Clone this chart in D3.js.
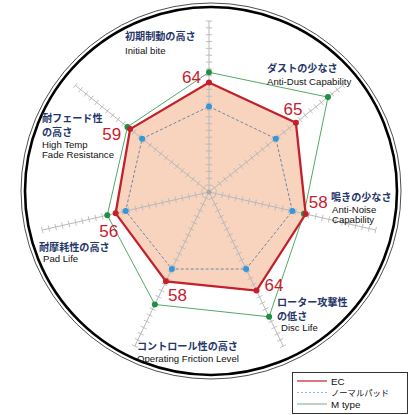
<!DOCTYPE html>
<html><head><meta charset="utf-8">
<script src="https://cdn.jsdelivr.net/npm/d3@7"></script>
<style>
html,body{margin:0;padding:0;background:#fff;}
svg{display:block;}
</style></head>
<body>
<svg id="chart" width="415" height="415"></svg>
<script>
// ---- data ----
const axesJa = ["初期制動の高さ","ダストの少なさ","鳴きの少なさ","ローター攻撃性の低さ","コントロール性の高さ","耐摩耗性の高さ","耐フェード性の高さ"];
const axesEn = ["Initial bite","Anti-Dust Capability","Anti-Noise Capability","Disc Life","Operating Friction Level","Pad Life","High Temp Fade Resistance"];
const seriesNames = ["EC","ノーマルパッド","M type"];
const ecValues = [64,65,58,64,58,56,59];
const normalValues = [50,50,50,50,50,50,50];
const mtypeValues = [70,89,57,81,73,61,61];
const tickValues = d3.range(4,101,4);

// ---- layout ----
const cx = 209, cy = 192, R = 171;
const svg = d3.select("#chart");
const r = d3.scaleLinear().domain([0,100]).range([0,R]);
const n = axesJa.length;
const ang = d3.scaleLinear().domain([0,n]).range([0,2*Math.PI]);
const pt = (i,v)=>{const a=ang(i);return [cx+r(v)*Math.sin(a), cy-r(v)*Math.cos(a)];};

const labelLayout = [
  {ja:[["初期制動の高さ",125,40]], en:[["Initial bite",125,54]]},
  {ja:[["ダストの少なさ",267,72]], en:[["Anti-Dust Capability",267,85]]},
  {ja:[["鳴きの少なさ",331,201]], en:[["Anti-Noise",332,213],["Capability",332,223]]},
  {ja:[["ローター攻撃性",277,306],["の低さ",277,320]], en:[["Disc Life",281,331]]},
  {ja:[["コントロール性の高さ",137,350]], en:[["Operating Friction Level",137,362]]},
  {ja:[["耐摩耗性の高さ",39,251]], en:[["Pad Life",43,262]]},
  {ja:[["耐フェード性",42,122],["の高さ",42,136]], en:[["High Temp",42,148],["Fade Resistance",42,158]]}
];
const valueLabelLayout = [
  {anchor:"end",dx:-8,dy:0},
  {anchor:"middle",dx:-3,dy:-8},
  {anchor:"start",dx:3,dy:-6},
  {anchor:"start",dx:8,dy:0},
  {anchor:"start",dx:2,dy:20},
  {anchor:"middle",dx:-7,dy:24},
  {anchor:"end",dx:-9,dy:11}
];

// outer decorative rings
svg.append("ellipse").attr("cx",211).attr("cy",191).attr("rx",190).attr("ry",188)
  .attr("fill","none").attr("stroke","#222").attr("stroke-width",0.8);
svg.append("ellipse").attr("cx",211).attr("cy",191).attr("rx",186).attr("ry",184)
  .attr("fill","none").attr("stroke","#000").attr("stroke-width",2.6);

const line = d3.line().curve(d3.curveLinearClosed);
const ecPts = ecValues.map((v,i)=>pt(i,v));
const nPts = normalValues.map((v,i)=>pt(i,v));
const mPts = mtypeValues.map((v,i)=>pt(i,v));

svg.append("path").attr("d",line(ecPts)).attr("fill","#f8d3be").attr("stroke","none");

const axG = svg.append("g");
for(let i=0;i<n;i++){
  const a = ang(i);
  const [x2,y2] = pt(i,100);
  axG.append("line").attr("x1",cx).attr("y1",cy).attr("x2",x2).attr("y2",y2)
    .attr("stroke","#b9b9b9").attr("stroke-width",1);
  const px = Math.cos(a), py = Math.sin(a);
  tickValues.forEach(t=>{
    const [tx,ty] = pt(i,t);
    const h = 3.2;
    axG.append("line").attr("x1",tx-px*h).attr("y1",ty-py*h).attr("x2",tx+px*h).attr("y2",ty+py*h)
      .attr("stroke","#b9b9b9").attr("stroke-width",0.9);
  });
}
svg.append("circle").attr("cx",cx).attr("cy",cy).attr("r",2.5).attr("fill","#aaa");

svg.append("path").attr("d",line(nPts)).attr("fill","none").attr("stroke","#6e88a8")
  .attr("stroke-width",1).attr("stroke-dasharray","3,2");
svg.append("path").attr("d",line(mPts)).attr("fill","none").attr("stroke","#3f9f52").attr("stroke-width",0.9);
svg.append("path").attr("d",line(ecPts)).attr("fill","none").attr("stroke","#c3202b").attr("stroke-width",2.3);

svg.selectAll(".dn").data(nPts).enter().append("circle").attr("cx",d=>d[0]).attr("cy",d=>d[1]).attr("r",3).attr("fill","#3497d8");
svg.selectAll(".dm").data(mPts).enter().append("circle").attr("cx",d=>d[0]).attr("cy",d=>d[1]).attr("r",3).attr("fill","#1f9040");
svg.selectAll(".de").data(ecPts).enter().append("circle").attr("cx",d=>d[0]).attr("cy",d=>d[1]).attr("r",3).attr("fill","#c3202b");

ecValues.forEach((v,i)=>{
  const [x,y] = ecPts[i]; const L = valueLabelLayout[i];
  svg.append("text").attr("x",x+L.dx).attr("y",y+L.dy).attr("text-anchor",L.anchor)
    .attr("font-family","Liberation Sans, Arial, sans-serif").attr("font-size",17)
    .attr("fill","#c8202d").text(v);
});

labelLayout.forEach(L=>{
  L.ja.forEach(([t,x,y])=>svg.append("text").attr("x",x).attr("y",y)
    .attr("font-family","'Noto Sans CJK JP', sans-serif").attr("font-weight","bold")
    .attr("font-size",10.1).attr("fill","#25366a").text(t));
  L.en.forEach(([t,x,y])=>svg.append("text").attr("x",x).attr("y",y)
    .attr("font-family","Liberation Sans, Arial, sans-serif")
    .attr("font-size",9.6).attr("fill","#111").text(t));
});

// legend
const lg = svg.append("g");
lg.append("rect").attr("x",292.5).attr("y",372.5).attr("width",115).attr("height",41)
  .attr("fill","#fff").attr("stroke","#333").attr("stroke-width",1);
const legStyles = [
  {stroke:"#c3202b",dash:null,w:1.2},
  {stroke:"#8fb8d8",dash:"2,2",w:1.2},
  {stroke:"#8fb89a",dash:null,w:1.2}
];
seriesNames.forEach((s,i)=>{
  const y = 381 + i*11.5;
  lg.append("line").attr("x1",297).attr("x2",327).attr("y1",y).attr("y2",y)
    .attr("stroke",legStyles[i].stroke).attr("stroke-width",legStyles[i].w)
    .attr("stroke-dasharray",legStyles[i].dash);
  const isJa = /[^\x00-\x7f]/.test(s);
  lg.append("text").attr("x",331).attr("y",y+3.5)
    .attr("font-family",isJa?"'Noto Sans CJK JP', sans-serif":"Liberation Sans, Arial, sans-serif")
    .attr("font-size",isJa?8.3:9.8).attr("fill","#111").text(s);
});
</script>
</body></html>
